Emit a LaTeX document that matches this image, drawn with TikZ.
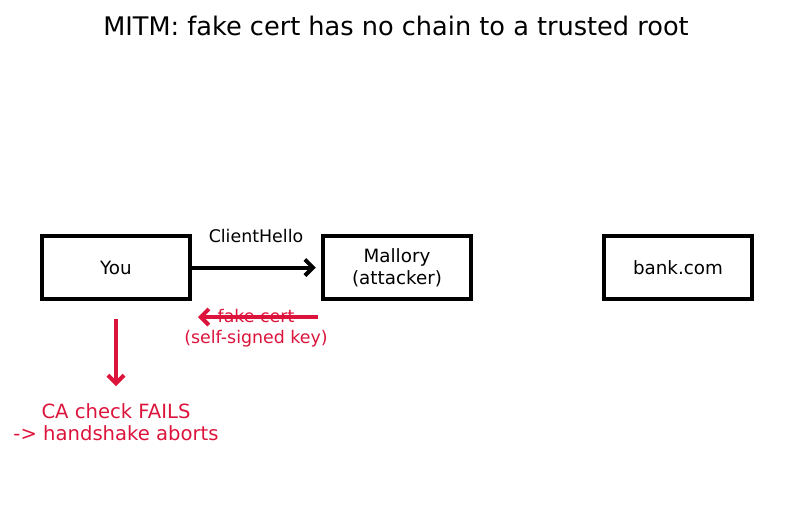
\documentclass[tikz,border=0pt]{standalone}
\usepackage{fontspec}
\setmainfont{DejaVu Sans}
\usetikzlibrary{arrows.meta,positioning}
\definecolor{AlertRed}{HTML}{DC143C}

\begin{document}
\begin{tikzpicture}[x=1pt,y=-1pt,font=\fontsize{18.3}{21}\selectfont,
 >={Straight Barb[length=8pt,width=16pt]},
 party/.style={draw,line width=4.5pt,minimum width=148pt,minimum height=63pt,align=center,inner sep=0pt},
 msg/.style={line width=4pt,->},
 note/.style={text=AlertRed,align=center,inner sep=0pt}]
\useasboundingbox (0,0) rectangle (790,512);
\node[font=\fontsize{25.6}{30}\selectfont] (title) at (396,26) {MITM: fake cert has no chain to a trusted root};
\node[party] (you) at (116,267.5) {You};
\node[party,font=\fontsize{18.3}{22}\selectfont] (mallory) at (397,267.5) {Mallory\\(attacker)};
\node[party] (bank) at (678,267.5) {bank.com};
\node[font=\fontsize{17.4}{19}\selectfont] (hello) at (256,236) {ClientHello};
\draw[msg,shorten >=5pt] (you.east) -- (mallory.west);
\node[note,font=\fontsize{17.4}{21.5}\selectfont] (fake) at (256,328) {fake cert\\(self-signed key)};
\coordinate (fakestart) at (318,317);
\coordinate (fakeend) at (198,317);
\draw[msg,AlertRed] (fakestart) -- (fakeend);
\coordinate (checkstart) at (116,319);
\coordinate (checkend) at (116,386);
\draw[msg,AlertRed] (checkstart) -- (checkend);
\node[note,font=\fontsize{19.6}{22}\selectfont] (fails) at (116,422) {CA check FAILS\\-> handshake aborts};
\end{tikzpicture}
\end{document}
